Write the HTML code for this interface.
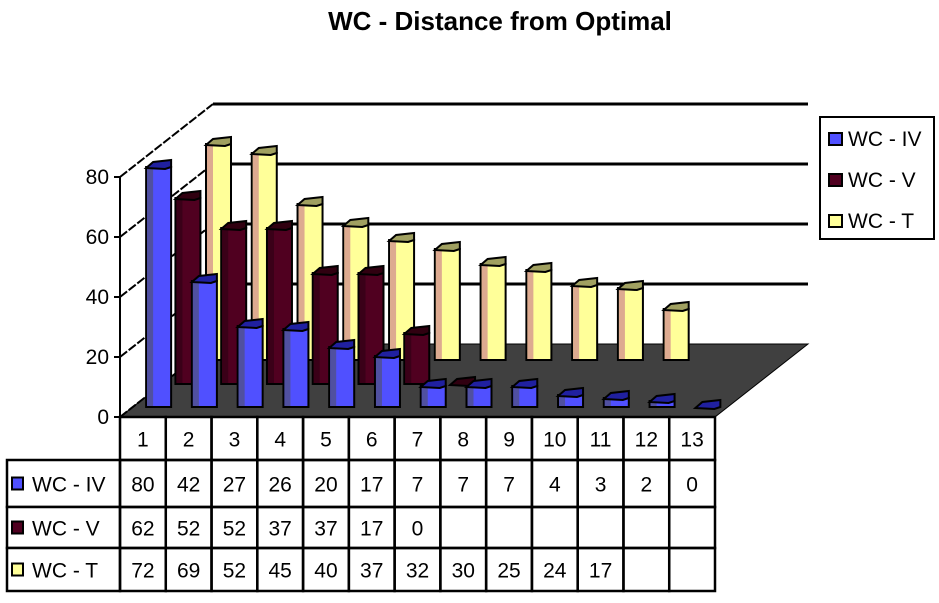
<!DOCTYPE html>
<html><head><meta charset="utf-8"><style>
body{margin:0;background:#fff;}
svg{display:block;font-family:"Liberation Sans",sans-serif;}
</style></head><body>
<svg id="chart" width="939" height="603" viewBox="0 0 939 603">
<text x="500" y="30" text-anchor="middle" font-size="26" font-weight="bold">WC - Distance from Optimal</text>
<g id="walls"></g>
<g id="bars"></g>
<g id="table"></g>
<g>
<rect x="820" y="117" width="114" height="122" fill="#fff" stroke="#000" stroke-width="2"/>
<g><rect x="829" y="133" width="13" height="12" fill="#5050FF" stroke="#000" stroke-width="2"/><text x="848" y="146" font-size="21">WC - IV</text></g>
<g><rect x="829" y="174" width="13" height="12" fill="#500020" stroke="#000" stroke-width="2"/><text x="848" y="187" font-size="21">WC - V</text></g>
<g><rect x="829" y="215" width="13" height="12" fill="#FFFF99" stroke="#000" stroke-width="2"/><text x="848" y="228" font-size="21">WC - T</text></g>
</g>
</svg>
<script>
const categories=["1","2","3","4","5","6","7","8","9","10","11","12","13"];
const seriesNames=["WC - IV","WC - V","WC - T"];
const valuesIV=[80,42,27,26,20,17,7,7,7,4,3,2,0];
const valuesV=[62,52,52,37,37,17,0,null,null,null,null,null,null];
const valuesT=[72,69,52,45,40,37,32,30,25,24,17,null,null];
const yTicks=[0,20,40,60,80];

const NS="http://www.w3.org/2000/svg";
function mk(tag,attrs,parent){const e=document.createElementNS(NS,tag);for(const k in attrs)e.setAttribute(k,attrs[k]);parent.appendChild(e);return e;}
const X0=120,X1=715,Y0=417,PX=3.0,DX=93,DY=73;
const catW=(X1-X0)/categories.length;
function yv(v){return v*PX;}
function xc(i){return X0+catW*(i+0.5);}

const walls=document.getElementById('walls');
const floor=mk('polygon',{points:`${X0},${Y0} ${X1},${Y0} ${X1+DX},${Y0-DY} ${X0+DX},${Y0-DY}`,fill:'#404040',stroke:'#000','stroke-width':1},walls);


yTicks.forEach(t=>{
  const yf=Y0-yv(t), yb=yf-DY;
  if(t>0){
    const gl=mk('line',{x1:X0+DX,y1:yb,x2:X1+DX,y2:yb,stroke:'#000','stroke-width':3},walls);
    
    
  }
  mk('line',{x1:X0,y1:yf,x2:X0+DX,y2:yb,stroke:'#000','stroke-width':2,'stroke-dasharray':'9 2'},walls);
  mk('line',{x1:X0-6,y1:yf,x2:X0,y2:yf,stroke:'#000','stroke-width':2},walls);
  const tl=mk('text',{x:X0-11,y:yf+7,'text-anchor':'end','font-size':21},walls);
  tl.textContent=t;
  
  
});
mk('line',{x1:X0,y1:Y0,x2:X0,y2:Y0-yv(80),stroke:'#000','stroke-width':2},walls);

const bars=document.getElementById('bars');
const series=[
 {vals:valuesT,depth:57,body:'#FFFF99',side:'#DDAA90',cap:'#A0A060',name:'wc-t'},
 {vals:valuesV,depth:33,body:'#500020',side:'#3a0018',cap:'#300010',name:'wc-v'},
 {vals:valuesIV,depth:10,body:'#5050FF',side:'#5050A0',cap:'#2020A0',name:'wc-iv'}
];
const BW=25;
series.forEach(s=>{
  s.vals.forEach((v,i)=>{
    if(v===null)return;
    const cx=xc(i)+s.depth*DX/DY+3, base=Y0-s.depth, top=base-yv(v);
    const x0=cx-BW/2,x1=cx+BW/2;
    const g=mk('g',{},bars);
    
    
    if(v>0){
      mk('rect',{x:x0,y:top,width:BW,height:base-top,fill:s.body,stroke:'#000','stroke-width':2},g);
      mk('rect',{x:x0+1,y:top+1,width:6,height:base-top-2,fill:s.side},g);
    }
    mk('polygon',{points:`${x0},${top+1} ${x0+7},${top-5} ${x1},${top-7} ${x1},${top} ${x1-6},${top+2}`,fill:s.cap,stroke:'#000','stroke-width':2},g);
  });
});

const tb=document.getElementById('table');
const rows=[[null,categories],["WC - IV",valuesIV],["WC - V",valuesV],["WC - T",valuesT]];
const rowY=[417,460,507,548,591];
const sw=['#5050FF','#500020','#FFFF99'];
rows.forEach((r,ri)=>{
  const y0=rowY[ri],y1=rowY[ri+1];
  if(ri>0){
    mk('rect',{x:7,y:y0,width:X0-7,height:y1-y0,fill:'#fff',stroke:'#000','stroke-width':2.5},tb);
    mk('rect',{x:12,y:(y0+y1)/2-6,width:11,height:12,fill:sw[ri-1],stroke:'#000','stroke-width':2},tb);
    const lt=mk('text',{x:32,y:(y0+y1)/2+8,'font-size':21},tb);
    lt.textContent=r[0];
    
    
  }
  r[1].forEach((v,i)=>{
    const cx0=X0+catW*i;
    mk('rect',{x:cx0,y:y0,width:catW,height:y1-y0,fill:'none',stroke:'#000','stroke-width':2.5},tb);
    if(v===null)return;
    const t=mk('text',{x:cx0+catW/2,y:(y0+y1)/2+8,'text-anchor':'middle','font-size':21},tb);
    t.textContent=v;
    
    
  });
});
</script>
</body></html>
